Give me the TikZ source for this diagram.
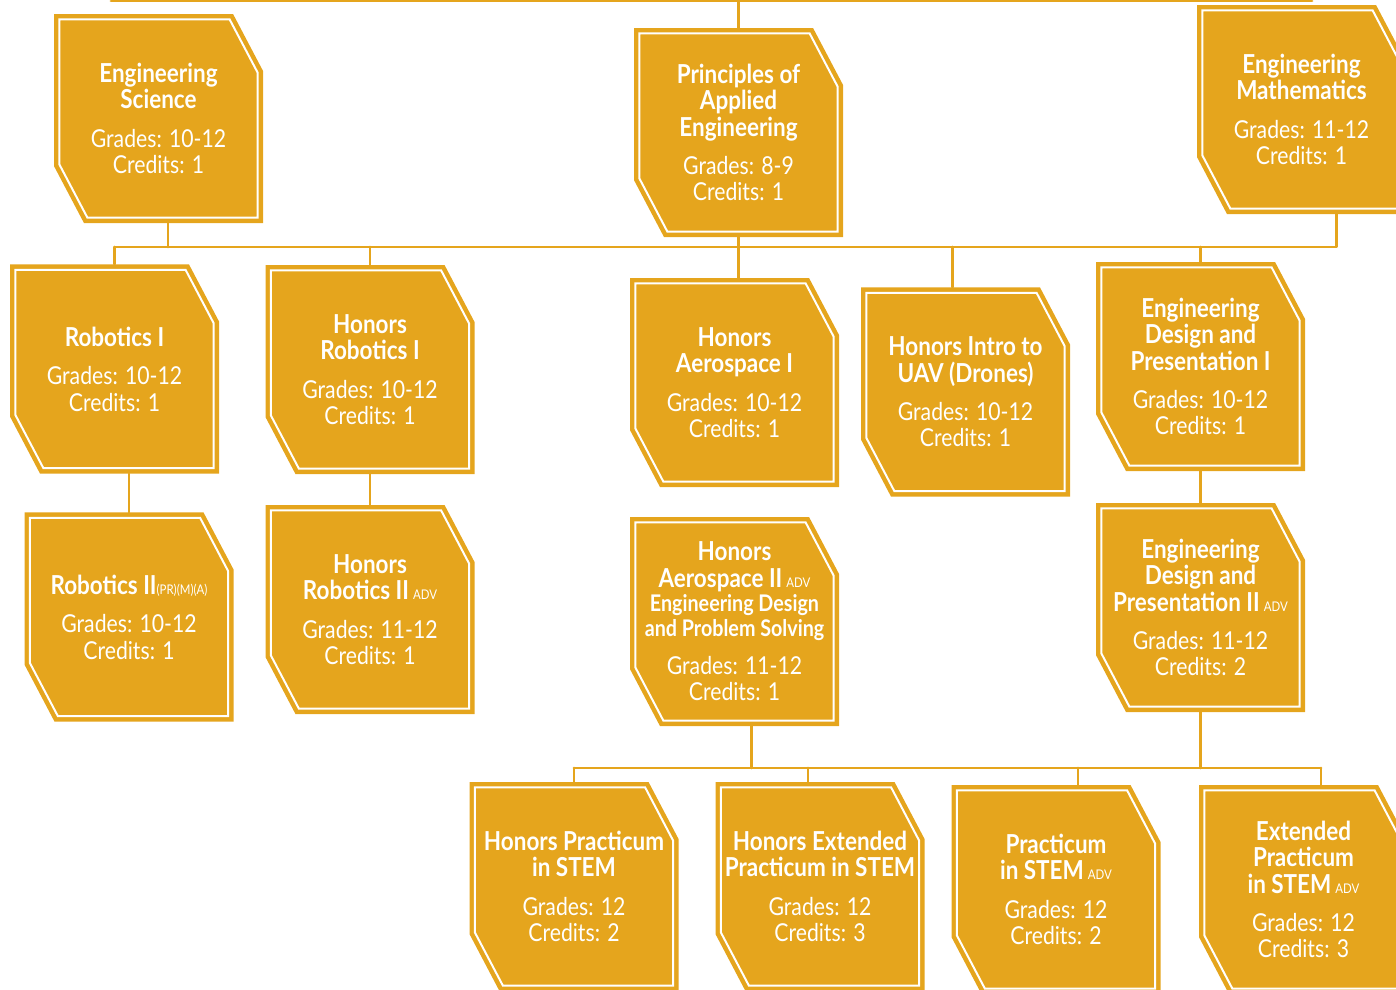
\documentclass[tikz,border=0pt]{standalone}
\usepackage{fontspec}
\usepackage{tikz}
\usetikzlibrary{calc}
\newfontfamily\latoc{Lato}[FakeStretch=0.86]
\definecolor{gold}{RGB}{229,165,29}
\newcommand{\tl}[1]{{\fontsize{19.6}{19.8}\selectfont\bfseries #1}}
\newcommand{\tls}[1]{{\fontsize{17.2}{17.6}\selectfont\bfseries #1}}
\newcommand{\adv}{\,{\fontsize{10}{10}\selectfont ADV}}

\begin{document}
\begin{tikzpicture}[line cap=round,line join=round,x=0.75pt,y=-0.75pt,
  link/.style={draw=gold,line width=2.2pt},
  course/.style={minimum width=156.75pt,minimum height=156.75pt,inner sep=0pt,
    align=center,text=white,font=\latoc\fontsize{18.5}{19.8}\selectfont,
    path picture={
      \path[fill=gold,draw=gold,double=white,double distance=1.5pt,line width=3.4pt,line join=miter]
        ([shift={(4.1pt,-4.1pt)}]path picture bounding box.north west)
        -- ([shift={(-25pt,-4.1pt)}]path picture bounding box.north east)
        -- ([shift={(-4.1pt,-43.8pt)}]path picture bounding box.north east)
        -- ([shift={(-4.1pt,4.1pt)}]path picture bounding box.south east)
        -- ([shift={(25pt,4.1pt)}]path picture bounding box.south west)
        -- ([shift={(4.1pt,43.8pt)}]path picture bounding box.south west) -- cycle;
    }}]
\clip (0,0) rectangle (1396,989);

\node[course] (ES) at (158.5,118.5) {\tl{Engineering}\\\tl{Science}\\[9pt]Grades: 10-12\\Credits: 1};
\node[course] (PAE) at (738.5,132.5) {\tl{Principles of}\\\tl{Applied}\\\tl{Engineering}\\[9pt]Grades: 8-9\\Credits: 1};
\node[course] (EM) at (1301.5,109.5) {\tl{Engineering}\\\tl{Mathematics}\\[9pt]Grades: 11-12\\Credits: 1};

\node[course] (RobI) at (114.5,369) {\tl{Robotics I}\\[9pt]Grades: 10-12\\Credits: 1};
\node[course] (HRobI) at (370,369.5) {\tl{Honors}\\\tl{Robotics I}\\[9pt]Grades: 10-12\\Credits: 1};
\node[course] (HAeroI) at (734.5,382.5) {\tl{Honors}\\\tl{Aerospace I}\\[9pt]Grades: 10-12\\Credits: 1};
\node[course] (UAV) at (965.5,392) {\tl{Honors Intro to}\\\tl{UAV (Drones)}\\[9pt]Grades: 10-12\\Credits: 1};
\node[course] (EDPI) at (1200.5,366.5) {\tl{Engineering}\\\tl{Design and}\\\tl{Presentation I}\\[9pt]Grades: 10-12\\Credits: 1};

\node[course] (RobII) at (129,617) {\tl{Robotics II}{\fontsize{10}{10}\selectfont (PR)(M)(A)}\\[9pt]Grades: 10-12\\Credits: 1};
\node[course] (HRobII) at (370,609.5) {\tl{Honors}\\\tl{Robotics II}\adv\\[9pt]Grades: 11-12\\Credits: 1};
\node[course] (HAeroII) at (734.5,621.5) {\tl{Honors}\\\tl{Aerospace II}\adv\\[-1.5pt]\tls{Engineering Design}\\[-1.5pt]\tls{and Problem Solving}\\[9pt]Grades: 11-12\\Credits: 1};
\node[course] (EDPII) at (1200.5,607.5) {\tl{Engineering}\\\tl{Design and}\\\tl{Presentation II}\adv\\[9pt]Grades: 11-12\\Credits: 2};

\node[course] (HPrac) at (574,886.5) {\tl{Honors Practicum}\\\tl{in STEM}\\[9pt]Grades: 12\\Credits: 2};
\node[course] (HExt) at (820,886.5) {\tl{Honors Extended}\\\tl{Practicum in STEM}\\[9pt]Grades: 12\\Credits: 3};
\node[course] (Prac) at (1056,889.5) {\tl{Practicum}\\\tl{in STEM}\adv\\[9pt]Grades: 12\\Credits: 2};
\node[course] (ExtPrac) at (1303.5,889.5) {\tl{Extended}\\\tl{Practicum}\\\tl{in STEM}\adv\\[9pt]Grades: 12\\Credits: 3};

\coordinate (topL) at (111,1);
\coordinate (topR) at (1312,1);
\coordinate (busA) at (0,247);
\coordinate (busB) at (0,768);

\draw[link] (topL) -- (topR);
\draw[link] (PAE.north) -- (PAE.north |- topL);

\draw[link] (RobI.north |- busA) -- ([xshift=25.9pt]EM.south |- busA) -- ([xshift=25.9pt]EM.south);
\draw[link] ([xshift=7.1pt]ES.south) -- ([xshift=7.1pt]ES.south |- busA);
\draw[link] (PAE.south) -- (PAE.south |- HAeroI.north);
\foreach \n in {RobI,HRobI,EDPI}
  \draw[link] (\n.north) -- (\n.north |- busA);
\draw[link] ([xshift=-10.1pt]UAV.north) -- ([xshift=-10.1pt]UAV.north |- busA);

\draw[link] (RobI.south -| RobII.north) -- (RobII.north);
\draw[link] (HRobI.south) -- (HRobII.north);
\draw[link] (EDPI.south) -- (EDPII.north);

\draw[link] ([xshift=12.4pt]HAeroII.south) -- ([xshift=12.4pt]HAeroII.south |- busB);
\draw[link] (EDPII.south) -- (EDPII.south |- busB);
\draw[link] (HPrac.north |- busB) -- ([xshift=13.1pt]ExtPrac.north |- busB);
\draw[link] (HPrac.north) -- (HPrac.north |- busB);
\draw[link] ([xshift=-9pt]HExt.north) -- ([xshift=-9pt]HExt.north |- busB);
\draw[link] ([xshift=16.5pt]Prac.north) -- ([xshift=16.5pt]Prac.north |- busB);
\draw[link] ([xshift=13.1pt]ExtPrac.north) -- ([xshift=13.1pt]ExtPrac.north |- busB);

\end{tikzpicture}
\end{document}
